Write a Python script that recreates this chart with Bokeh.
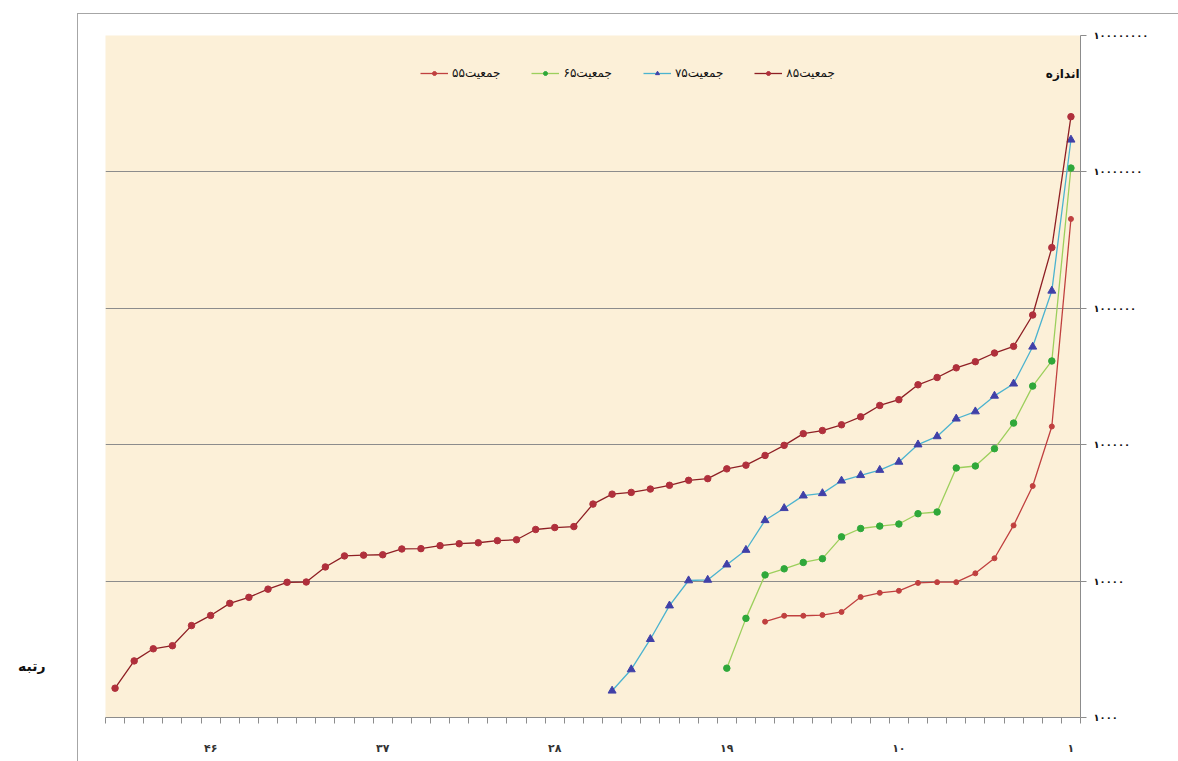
from bokeh.plotting import figure
from bokeh.models import Range1d, FixedTicker, Label, Legend, LegendItem, LinearAxis, LinearScale
from bokeh.embed import file_html
from bokeh.resources import INLINE

# ---- data ----
series_labels = ["جمعیت۵۵", "جمعیت۶۵", "جمعیت۷۵", "جمعیت۸۵"]

pop_55 = [4520000, 136000, 49800, 25600, 14700, 11400, 9820, 9820, 9700, 8490,
          8200, 7640, 5940, 5640, 5570, 5570, 5040]
pop_65 = [10670000, 411000, 269000, 144000, 93500, 69800, 67500, 32100, 31200, 26200,
          25300, 24300, 21100, 14600, 13700, 12300, 11100, 5330, 2300]
pop_75 = [17200000, 1343000, 522000, 280000, 228000, 175000, 155000, 115000, 100200, 74800,
          65200, 59700, 54400, 44000, 42300, 34200, 27900, 16900, 13200, 10200,
          10100, 6610, 3750, 2250, 1570]
pop_85 = [25400000, 2786000, 893000, 526000, 470000, 406000, 366000, 311000, 275000, 214000,
          194000, 160000, 140000, 127000, 120500, 98900, 83400, 70800, 66500, 56400,
          54800, 50400, 47300, 44700, 43400, 36700, 25100, 24700, 23900, 20100,
          19800, 19100, 18800, 18200, 17300, 17200, 15600, 15500, 15300, 12700,
          9850, 9800, 8730, 7600, 6870, 5600, 4720, 3360, 3190, 2600, 1640]

x_tick_values = [1, 10, 19, 28, 37, 46]
x_tick_labels = ["۱", "۱۰", "۱۹", "۲۸", "۳۷", "۴۶"]
y_tick_values = [1000, 10000, 100000, 1000000, 10000000, 100000000]
y_tick_labels = ["۱۰۰۰", "۱۰۰۰۰", "۱۰۰۰۰۰", "۱۰۰۰۰۰۰", "۱۰۰۰۰۰۰۰", "۱۰۰۰۰۰۰۰۰"]
n_ranks = 51
x_title = "رتبه"
y_title = "اندازه"

FONT = "DejaVu Sans"
BOX = "#A6A6A6"

p = figure(width=1178, height=761,
           x_range=Range1d(n_ranks + 0.5, 0.5), y_range=Range1d(1000, 1e8),
           y_axis_type="log", y_axis_location="right",
           output_backend="svg", toolbar_location=None,
           min_border_left=105, min_border_right=98, min_border_top=35, min_border_bottom=44,
           background_fill_color="#FCF0D8", border_fill_alpha=0,
           outline_line_color=None,
           styles={"background": (f"linear-gradient({BOX},{BOX}) 77px 13px / 100% 1px no-repeat, "
                                  f"linear-gradient({BOX},{BOX}) 77px 13px / 1px 100% no-repeat, #FFFFFF")})

# x axis (categories with ticks between them)
xt = FixedTicker(ticks=x_tick_values, minor_ticks=[i + 0.5 for i in range(0, n_ranks + 1)])
p.xaxis.ticker = xt
p.xaxis.major_label_overrides = dict(zip(x_tick_values, x_tick_labels))
p.xaxis.major_tick_out = 0
p.xaxis.major_tick_in = 0
p.xaxis.minor_tick_out = 6
p.xaxis.minor_tick_in = 0
p.xaxis.minor_tick_line_color = "#8C8C8C"
p.xaxis.axis_line_color = "#8C8C8C"
p.xaxis.major_label_standoff = 18
p.xaxis.major_label_text_font = FONT
p.xaxis.major_label_text_font_size = "11px"
p.xaxis.major_label_text_font_style = "bold"
p.xaxis.major_label_text_color = "#333333"

# y axis (log, on the right)
yt = FixedTicker(ticks=y_tick_values, minor_ticks=[])
p.yaxis.ticker = yt
p.ygrid.ticker = yt
p.yaxis.major_label_overrides = dict(zip(y_tick_values, y_tick_labels))
p.yaxis.major_tick_out = 6
p.yaxis.major_tick_in = 0
p.yaxis.minor_tick_line_color = None
p.yaxis.major_tick_line_color = "#8C8C8C"
p.yaxis.axis_line_color = "#8C8C8C"
p.yaxis.major_label_standoff = 7
p.yaxis.major_label_text_font = FONT
p.yaxis.major_label_text_font_size = "10px"
p.yaxis.major_label_text_font_style = "bold"
p.yaxis.major_label_text_color = "#111111"

p.xgrid.grid_line_color = None
p.ygrid.grid_line_color = "#8C8C8C"
p.ygrid.grid_line_width = 1

# side axis carrying the horizontal "rank" title at the lower left
p.extra_y_ranges = {"side": Range1d(0, 1)}
p.extra_y_scales = {"side": LinearScale()}
side = LinearAxis(y_range_name="side", ticker=FixedTicker(ticks=[0.075], minor_ticks=[]),
                  major_label_overrides={0.075: x_title},
                  axis_line_color=None, major_tick_line_color=None, minor_tick_line_color=None,
                  major_tick_out=0, major_tick_in=0, minor_tick_out=0, minor_tick_in=0,
                  major_label_standoff=60, major_label_text_font=FONT,
                  major_label_text_font_style="bold", major_label_text_font_size="14px",
                  major_label_text_color="#111111")
p.add_layout(side, "left")

# series
styles = [
    dict(data=pop_55, line="#C0403F", fill="#C0403F", marker="circle", size=5),
    dict(data=pop_65, line="#9CCF5C", fill="#2FA83A", marker="circle", size=6.5),
    dict(data=pop_75, line="#4BB3CF", fill="#4040A8", marker="triangle", size=8),
    dict(data=pop_85, line="#8E1F24", fill="#B0303C", marker="circle", size=6.5),
]
items = []
for lab, st in zip(series_labels, styles):
    xs = list(range(1, len(st["data"]) + 1))
    ln = p.line(xs, st["data"], line_color=st["line"], line_width=1.3)
    sc = p.scatter(xs, st["data"], marker=st["marker"], size=st["size"],
                   fill_color=st["fill"], line_color=st["fill"])
    items.append(LegendItem(label=lab, renderers=[ln, sc]))

legend = Legend(items=items, orientation="horizontal", location=(315, 637),
                background_fill_alpha=0, border_line_color=None, padding=0, margin=0,
                spacing=31, glyph_width=28, glyph_height=10, label_standoff=4,
                label_text_font=FONT, label_text_font_size="12px",
                label_text_color="#111111")
p.add_layout(legend)

p.add_layout(Label(x=1079, y=73, x_units="canvas", y_units="canvas", text=y_title,
                   text_align="right", text_baseline="middle", text_font=FONT,
                   text_font_style="bold", text_font_size="12px", text_color="#111111"))

open("out.html", "w").write(file_html(p, INLINE))
